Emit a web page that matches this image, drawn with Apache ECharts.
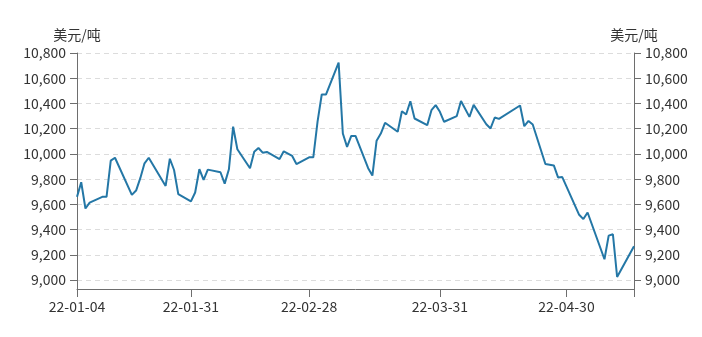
<!DOCTYPE html>
<html>
<head>
<meta charset="utf-8">
<script src="https://cdn.jsdelivr.net/npm/echarts@6/dist/echarts.min.js"></script>
<style>
html,body{margin:0;padding:0;background:#fff;}
#chart{width:702px;height:337px;}
</style>
</head>
<body>
<div id="chart"></div>
<script>
// Dates of observations (trading days)
var dates = [
 '2022-01-04','2022-01-05','2022-01-06','2022-01-07','2022-01-10','2022-01-11','2022-01-12','2022-01-13',
 '2022-01-17','2022-01-18','2022-01-19','2022-01-20','2022-01-21','2022-01-25','2022-01-26','2022-01-27',
 '2022-01-28','2022-01-31','2022-02-01','2022-02-02','2022-02-03','2022-02-04','2022-02-07','2022-02-08',
 '2022-02-09','2022-02-10','2022-02-11','2022-02-14','2022-02-15','2022-02-16','2022-02-17','2022-02-18',
 '2022-02-21','2022-02-22','2022-02-24','2022-02-25','2022-02-28','2022-03-01','2022-03-02','2022-03-03',
 '2022-03-04','2022-03-07','2022-03-08','2022-03-09','2022-03-10','2022-03-11','2022-03-14','2022-03-15',
 '2022-03-16','2022-03-17','2022-03-18','2022-03-21','2022-03-22','2022-03-23','2022-03-24','2022-03-25',
 '2022-03-28','2022-03-29','2022-03-30','2022-03-31','2022-04-01','2022-04-04','2022-04-05','2022-04-07',
 '2022-04-08','2022-04-11','2022-04-12','2022-04-13','2022-04-14','2022-04-19','2022-04-20','2022-04-21',
 '2022-04-22','2022-04-25','2022-04-27','2022-04-28','2022-04-29','2022-05-03','2022-05-04','2022-05-05',
 '2022-05-09','2022-05-10','2022-05-11','2022-05-12','2022-05-16'
];
// Price, USD/ton
var prices = [
 9660, 9776, 9568, 9615, 9660, 9660, 9947, 9970,
 9676, 9710, 9808, 9926, 9970, 9747, 9962, 9873,
 9682, 9624, 9695, 9879, 9794, 9876, 9855, 9765,
 9879, 10216, 10037, 9887, 10018, 10047, 10010, 10016,
 9960, 10021, 9984, 9920, 9973, 9973, 10255, 10471,
 10471, 10724, 10162, 10056, 10143, 10143, 9887, 9829,
 10105, 10162, 10247, 10176, 10339, 10313, 10418, 10281,
 10228, 10347, 10387, 10334, 10255, 10300, 10420, 10294,
 10389, 10236, 10202, 10289, 10278, 10384, 10220, 10262,
 10233, 9920, 9909, 9814, 9817, 9518, 9484, 9536,
 9166, 9353, 9364, 9025, 9268
];
var xStart = '2022-01-04';
var xEnd = '2022-05-16';
var xLabelDates = ['2022-01-04','2022-01-31','2022-02-28','2022-03-31','2022-04-30'];
var xTickDates = ['2022-01-04','2022-01-31','2022-02-28','2022-03-31','2022-04-30','2022-05-16'];
var yTicks = [9000, 9200, 9400, 9600, 9800, 10000, 10200, 10400, 10600, 10800];
var unitName = '美元/吨';

var FONT = '"Noto Sans CJK SC", "Noto Sans", sans-serif';
var TEXT = '#333';
var AXIS = '#6e6e6e';

function ts(s){ return Date.parse(s + 'T00:00:00Z'); }
function pad(n){ return (n < 10 ? '0' : '') + n; }
function fmtDate(v){
  var d = new Date(v);
  return String(d.getUTCFullYear()).slice(2) + '-' + pad(d.getUTCMonth() + 1) + '-' + pad(d.getUTCDate());
}
function fmtNum(v){ return Number(v).toLocaleString('en-US'); }

var seriesData = dates.map(function(d, i){ return [ts(d), prices[i]]; });

function yAxisCfg(pos){
  return {
    type: 'value',
    position: pos,
    min: 8930,
    max: 10800,
    name: unitName,
    nameLocation: 'end',
    nameGap: 11,
    nameTextStyle: { color: TEXT, fontSize: 14, fontFamily: FONT, align: 'center' },
    axisLine: { show: true, lineStyle: { color: AXIS, width: 1 } },
    axisTick: { show: true, length: 7, lineStyle: { color: AXIS }, customValues: yTicks },
    axisLabel: { color: TEXT, fontSize: 14, fontFamily: FONT, margin: 11, customValues: yTicks, formatter: fmtNum },
    splitLine: pos === 'left' ? { show: true, lineStyle: { color: '#dcdcdc', type: [5, 4], width: 1 } } : { show: false }
  };
}

var chart = echarts.init(document.getElementById('chart'), null, { renderer: 'canvas' });
chart.setOption({
  animation: false,
  backgroundColor: '#fff',
  grid: { left: 77, right: 68, top: 53, bottom: 48, containLabel: false },
  xAxis: {
    type: 'value',
    min: ts(xStart),
    max: ts(xEnd),
    axisLine: { show: true, onZero: false, lineStyle: { color: AXIS, width: 1 } },
    axisTick: { show: true, length: 8, lineStyle: { color: AXIS }, customValues: xTickDates.map(ts) },
    axisLabel: { color: TEXT, fontSize: 14, fontFamily: FONT, margin: 11, customValues: xLabelDates.map(ts), formatter: fmtDate, hideOverlap: false },
    splitLine: { show: false }
  },
  yAxis: [ yAxisCfg('left'), yAxisCfg('right') ],
  series: [{
    type: 'line',
    data: seriesData,
    yAxisIndex: 0,
    showSymbol: false,
    symbol: 'none',
    lineStyle: { color: '#2477a6', width: 2 },
    itemStyle: { color: '#2477a6' }
  }]
});
</script>
</body>
</html>
